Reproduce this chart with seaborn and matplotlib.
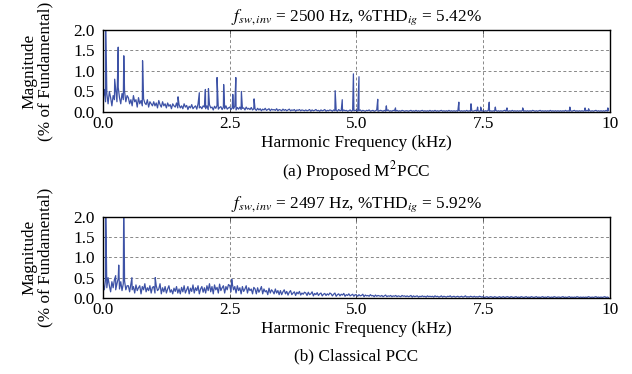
import numpy as np
import pandas as pd
import matplotlib
matplotlib.use("Agg")
import matplotlib.pyplot as plt
import seaborn as sns

# ---------------- data ----------------
BIN_KHZ = 0.025  # spectrum bin spacing of the background noise values

noise_a = [
    0.30,0.55,0.25,0.45,0.20,0.50,0.35,0.15,0.40,0.30,0.55,0.25,0.60,0.35,0.20,0.45,0.30,0.50,0.25,0.40,
    0.35,0.20,0.30,0.15,0.40,0.25,0.30,0.12,0.35,0.20,0.28,0.15,0.32,0.22,0.18,0.30,0.12,0.25,0.20,0.15,
    0.25,0.15,0.22,0.10,0.28,0.18,0.12,0.25,0.15,0.20,0.10,0.22,0.14,0.18,0.08,0.20,0.15,0.12,0.22,0.10,
    0.18,0.10,0.15,0.08,0.20,0.12,0.16,0.06,0.14,0.10,0.18,0.08,0.12,0.15,0.07,0.20,0.10,0.13,0.08,0.15,
    0.12,0.08,0.15,0.06,0.18,0.10,0.12,0.05,0.14,0.09,0.16,0.07,0.11,0.13,0.06,0.12,0.08,0.15,0.07,0.10,
    0.12,0.06,0.10,0.08,0.14,0.05,0.11,0.07,0.12,0.06,0.09,0.10,0.05,0.12,0.07,0.09,0.06,0.11,0.05,0.08,
    0.07,0.04,0.09,0.05,0.08,0.03,0.07,0.05,0.09,0.04,0.06,0.08,0.03,0.07,0.05,0.06,0.04,0.08,0.03,0.06,
    0.05,0.03,0.07,0.04,0.06,0.03,0.05,0.07,0.03,0.05,0.04,0.06,0.02,0.05,0.04,0.06,0.03,0.05,0.04,0.03,
    0.05,0.03,0.04,0.06,0.02,0.05,0.03,0.04,0.06,0.03,0.04,0.02,0.05,0.03,0.04,0.06,0.02,0.04,0.03,0.05,
    0.04,0.02,0.05,0.03,0.04,0.02,0.06,0.03,0.04,0.02,0.05,0.03,0.04,0.02,0.03,0.05,0.02,0.04,0.03,0.04,
    0.04,0.02,0.03,0.05,0.02,0.04,0.03,0.02,0.04,0.03,0.05,0.02,0.03,0.04,0.02,0.03,0.05,0.02,0.03,0.04,
    0.03,0.02,0.04,0.02,0.03,0.05,0.02,0.03,0.02,0.04,0.03,0.02,0.04,0.02,0.03,0.02,0.04,0.03,0.02,0.03,
    0.03,0.02,0.03,0.04,0.02,0.03,0.02,0.04,0.02,0.03,0.02,0.03,0.04,0.02,0.03,0.02,0.03,0.02,0.04,0.02,
    0.03,0.02,0.04,0.02,0.03,0.02,0.03,0.04,0.02,0.03,0.02,0.03,0.02,0.04,0.02,0.03,0.02,0.03,0.02,0.03,
    0.02,0.04,0.02,0.03,0.02,0.03,0.02,0.04,0.02,0.03,0.02,0.03,0.02,0.03,0.04,0.02,0.03,0.02,0.03,0.02,
    0.03,0.02,0.03,0.02,0.04,0.02,0.03,0.02,0.03,0.02,0.04,0.02,0.03,0.02,0.03,0.02,0.03,0.04,0.02,0.03,
    0.02,0.03,0.02,0.04,0.02,0.03,0.02,0.03,0.02,0.03,0.02,0.04,0.02,0.03,0.02,0.03,0.02,0.03,0.02,0.04,
    0.03,0.02,0.03,0.02,0.03,0.04,0.02,0.03,0.02,0.03,0.02,0.03,0.02,0.04,0.02,0.03,0.02,0.03,0.02,0.03,
    0.02,0.03,0.02,0.03,0.02,0.04,0.02,0.03,0.02,0.03,0.02,0.03,0.04,0.02,0.03,0.02,0.03,0.02,0.03,0.02,
    0.03,0.02,0.04,0.02,0.03,0.02,0.03,0.02,0.03,0.04,0.02,0.03,0.02,0.03,0.02,0.03,0.02,0.04,0.02,0.03,
]
peak_freq_a = [0.05, 0.23, 0.30, 0.41, 0.78, 1.48, 1.90, 2.02, 2.08, 2.25, 2.38, 2.56, 2.62, 2.73,
               2.98, 4.58, 4.72, 4.94, 5.05, 5.42, 5.59, 5.77, 7.02, 7.26, 7.39, 7.45, 7.62, 7.74,
               7.97, 8.28, 9.21, 9.51, 9.58, 9.96]
peak_mag_a = [2.60, 0.80, 1.58, 1.37, 1.25, 0.37, 0.47, 0.55, 0.57, 0.84, 0.67, 0.43, 0.84, 0.50,
              0.32, 0.52, 0.30, 0.93, 0.86, 0.31, 0.15, 0.10, 0.24, 0.20, 0.12, 0.12, 0.24, 0.12,
              0.10, 0.10, 0.12, 0.10, 0.08, 0.10]

noise_b = [
    0.35,0.20,0.45,0.25,0.50,0.30,0.15,0.40,0.25,0.45,0.20,0.35,0.48,0.22,0.40,0.18,0.35,0.42,0.20,0.30,
    0.30,0.15,0.35,0.20,0.28,0.12,0.32,0.18,0.25,0.30,0.10,0.28,0.20,0.35,0.15,0.25,0.18,0.30,0.12,0.26,
    0.28,0.12,0.30,0.18,0.22,0.35,0.10,0.25,0.15,0.28,0.12,0.22,0.30,0.14,0.20,0.10,0.24,0.16,0.28,0.12,
    0.22,0.10,0.26,0.15,0.30,0.12,0.20,0.28,0.10,0.24,0.16,0.32,0.12,0.25,0.18,0.30,0.10,0.22,0.28,0.14,
    0.25,0.12,0.30,0.18,0.35,0.15,0.28,0.10,0.32,0.20,0.26,0.12,0.34,0.18,0.25,0.30,0.12,0.28,0.20,0.33,
    0.30,0.15,0.35,0.20,0.28,0.12,0.30,0.18,0.25,0.10,0.28,0.16,0.22,0.30,0.12,0.25,0.18,0.22,0.10,0.26,
    0.22,0.10,0.25,0.14,0.20,0.28,0.10,0.22,0.15,0.18,0.08,0.24,0.12,0.20,0.16,0.10,0.22,0.12,0.18,0.08,
    0.18,0.08,0.15,0.20,0.10,0.16,0.07,0.14,0.18,0.08,0.12,0.15,0.06,0.14,0.10,0.16,0.07,0.12,0.09,0.14,
    0.12,0.06,0.14,0.08,0.10,0.15,0.05,0.11,0.08,0.13,0.06,0.10,0.12,0.05,0.09,0.11,0.06,0.10,0.07,0.12,
    0.10,0.05,0.09,0.12,0.04,0.08,0.10,0.05,0.09,0.07,0.11,0.04,0.08,0.06,0.10,0.05,0.07,0.09,0.04,0.08,
    0.07,0.04,0.08,0.05,0.06,0.09,0.03,0.07,0.05,0.06,0.04,0.08,0.05,0.06,0.03,0.07,0.04,0.06,0.05,0.04,
    0.06,0.03,0.05,0.07,0.03,0.05,0.04,0.06,0.03,0.05,0.04,0.06,0.03,0.05,0.04,0.03,0.06,0.04,0.05,0.03,
    0.05,0.03,0.04,0.06,0.02,0.05,0.03,0.04,0.05,0.02,0.04,0.03,0.05,0.03,0.04,0.02,0.05,0.03,0.04,0.03,
    0.04,0.02,0.05,0.03,0.04,0.02,0.03,0.05,0.02,0.04,0.03,0.02,0.04,0.03,0.05,0.02,0.03,0.04,0.02,0.03,
    0.04,0.02,0.03,0.04,0.02,0.03,0.05,0.02,0.03,0.02,0.04,0.03,0.02,0.04,0.02,0.03,0.02,0.04,0.03,0.02,
    0.03,0.01,0.02,0.03,0.01,0.02,0.03,0.02,0.01,0.03,0.02,0.01,0.02,0.03,0.01,0.02,0.03,0.01,0.02,0.03,
    0.02,0.01,0.03,0.02,0.01,0.02,0.03,0.01,0.02,0.01,0.03,0.02,0.01,0.02,0.03,0.01,0.02,0.01,0.03,0.02,
    0.01,0.02,0.03,0.01,0.02,0.01,0.02,0.03,0.01,0.02,0.01,0.03,0.02,0.01,0.02,0.01,0.03,0.02,0.01,0.02,
    0.02,0.01,0.02,0.03,0.01,0.02,0.01,0.02,0.03,0.01,0.02,0.01,0.02,0.01,0.03,0.02,0.01,0.02,0.01,0.02,
    0.01,0.02,0.01,0.03,0.02,0.01,0.02,0.01,0.02,0.03,0.01,0.02,0.01,0.02,0.01,0.02,0.03,0.01,0.02,0.01,
]
peak_freq_b = [0.05, 0.25, 0.31, 0.41, 0.57, 1.03, 2.54]
peak_mag_b = [2.60, 0.55, 0.81, 2.60, 0.50, 0.50, 0.46]

titles = [r"$f_{sw,inv}$ = 2500 Hz, %THD$_{ig}$ = 5.42%",
          r"$f_{sw,inv}$ = 2497 Hz, %THD$_{ig}$ = 5.92%"]
captions = [r"(a) Proposed M$^2$PCC", "(b) Classical PCC"]
x_ticks = [0.0, 2.5, 5.0, 7.5, 10.0]
x_ticklabels = ["0.0", "2.5", "5.0", "7.5", "10"]
y_ticks = [0.0, 0.5, 1.0, 1.5, 2.0]
y_ticklabels = ["0.0", "0.5", "1.0", "1.5", "2.0"]
xlabel = "Harmonic Frequency (kHz)"
ylabel = "Magnitude\n(% of Fundamental)"


def spectrum(noise, pf, pm):
    f = np.arange(len(noise)) * BIN_KHZ
    df = pd.DataFrame({"freq": np.concatenate([f, pf]),
                       "mag": np.concatenate([noise, pm])})
    return df.sort_values("freq").reset_index(drop=True)


# ---------------- style ----------------
sns.set_theme(style="white")
plt.rcParams["font.family"] = ["Liberation Serif", "DejaVu Serif"]
plt.rcParams["mathtext.fontset"] = "stix"
for k in ["text.color", "axes.labelcolor", "xtick.color", "ytick.color"]:
    plt.rcParams[k] = "black"
FS = 12.4
LINE = "#3d52a6"

fig = plt.figure(figsize=(6.32, 3.74), dpi=100)
ax_a = fig.add_axes([0.163, 0.7005, 0.802, 0.2195])
ax_b = fig.add_axes([0.163, 0.2035, 0.802, 0.2165])

data = [spectrum(noise_a, peak_freq_a, peak_mag_a),
        spectrum(noise_b, peak_freq_b, peak_mag_b)]

for ax, df, title, cap in zip([ax_a, ax_b], data, titles, captions):
    sns.lineplot(data=df, x="freq", y="mag", ax=ax, color=LINE, linewidth=0.9,
                 estimator=None, sort=False)
    ax.set_xlim(0, 10)
    ax.set_ylim(0, 2)
    ax.set_xticks(x_ticks)
    ax.set_xticklabels(x_ticklabels, fontsize=FS)
    ax.set_yticks(y_ticks)
    ax.set_yticklabels(y_ticklabels, fontsize=FS)
    ax.tick_params(axis="x", direction="in", length=3, width=0.6, color="#444444",
                   top=True, bottom=True, pad=3)
    ax.tick_params(axis="y", direction="in", length=3, width=0.6, color="#444444",
                   left=True, right=False, pad=6)
    ax.grid(True, color="#888888", linestyle=(0, (3, 2.5)), linewidth=0.7)
    for s in ax.spines.values():
        s.set_color("black")
        s.set_linewidth(1.0)
    ax.set_xlabel(xlabel, fontsize=FS, labelpad=2)
    ax.set_ylabel(ylabel, fontsize=FS, labelpad=14, linespacing=1.05)
    ax.set_title(title, fontsize=FS, pad=7)
    ax.text(0.5, -0.72, cap, transform=ax.transAxes, ha="center", va="center",
            fontsize=FS)

fig.savefig("out.png", dpi=100)
